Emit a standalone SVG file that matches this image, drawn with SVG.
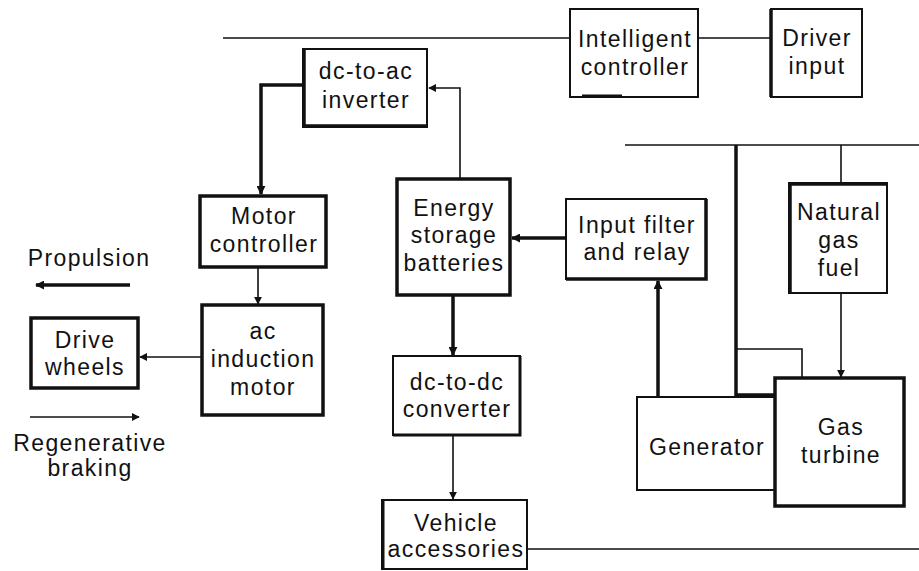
<svg xmlns="http://www.w3.org/2000/svg" width="919" height="571" viewBox="0 0 919 571">
<style>
text{font-family:"Liberation Sans",Arial,sans-serif;font-size:23px;letter-spacing:1.4px;fill:#111;text-anchor:middle}
.b{fill:#fff;stroke:#111;stroke-width:2}
.bt{fill:#fff;stroke:#111;stroke-width:3.5}
.l{fill:none;stroke:#111;stroke-width:1.6}
.lt{fill:none;stroke:#111;stroke-width:3.5}
</style>
<defs>
<marker id="a" viewBox="0 0 10 10" refX="9" refY="5" markerWidth="8" markerHeight="8" markerUnits="userSpaceOnUse" orient="auto"><path d="M0,0L10,5L0,10z" fill="#111"/></marker>
<marker id="at" viewBox="0 0 10 10" refX="9" refY="5" markerWidth="9" markerHeight="9" markerUnits="userSpaceOnUse" orient="auto"><path d="M0,0L10,5L0,10z" fill="#111"/></marker>
</defs>
<rect width="919" height="571" fill="#fff"/>
<g id="connectors">
<line class="l" x1="223" y1="38" x2="570" y2="38"/>
<line class="l" x1="698" y1="38" x2="771" y2="38"/>
<line class="l" x1="625" y1="145" x2="919" y2="145"/>
<polyline class="lt" points="736,145 736,395 775,395"/>
<polyline class="l" points="736,349 802,349 802,378"/>
<line class="l" x1="841" y1="145" x2="841" y2="183"/>
<line class="l" x1="841" y1="293" x2="841" y2="377" marker-end="url(#a)"/>
<line class="lt" x1="658" y1="397" x2="658" y2="281" marker-end="url(#at)"/>
<line class="lt" x1="566" y1="238" x2="512" y2="238" marker-end="url(#at)"/>
<line class="lt" x1="453" y1="295" x2="453" y2="355" marker-end="url(#at)"/>
<polyline class="l" points="460,179 460,88 429,88" marker-end="url(#a)"/>
<polyline class="lt" points="303,85 261,85 261,194" marker-end="url(#at)"/>
<line class="l" x1="258" y1="267" x2="258" y2="304" marker-end="url(#a)"/>
<line class="l" x1="202" y1="357" x2="140" y2="357" marker-end="url(#a)"/>
<line class="lt" x1="130" y1="285" x2="36" y2="285" marker-end="url(#at)"/>
<line class="l" x1="30" y1="417" x2="139" y2="417" marker-end="url(#a)"/>
<line class="l" x1="453" y1="435" x2="453" y2="499" marker-end="url(#a)"/>
<line class="l" x1="527" y1="549" x2="919" y2="549"/>
</g>
<g id="intelligent-controller">
<rect class="b" x="570" y="9" width="128" height="88"/>
<line x1="582" y1="96" x2="622" y2="96" stroke="#111" stroke-width="3"/>
<text x="635" y="47">Intelligent</text><text x="635" y="75">controller</text>
</g>
<g id="driver-input">
<rect class="b" x="771" y="9" width="91" height="88"/>
<line x1="771" y1="9" x2="771" y2="97" stroke="#111" stroke-width="3.5"/>
<text x="817" y="46">Driver</text><text x="817" y="74">input</text>
</g>
<g id="dc-ac-inverter">
<rect class="b" x="303" y="49" width="124" height="78"/>
<polyline points="304,49 304,126 427,126" fill="none" stroke="#111" stroke-width="3.5"/>
<text x="366" y="79">dc-to-ac</text><text x="366" y="108">inverter</text>
</g>
<g id="motor-controller">
<rect class="bt" x="200" y="196" width="126" height="71"/>
<text x="264" y="224">Motor</text><text x="264" y="252">controller</text>
</g>
<g id="ac-induction-motor">
<rect class="bt" x="202" y="305" width="121" height="110"/>
<text x="263" y="339">ac</text><text x="263" y="367">induction</text><text x="263" y="395">motor</text>
</g>
<g id="drive-wheels">
<rect class="bt" x="31" y="318" width="107" height="70"/>
<text x="85" y="348">Drive</text><text x="85" y="375">wheels</text>
</g>
<g id="propulsion"><text x="89" y="266">Propulsion</text></g>
<g id="regenerative-braking"><text x="90" y="451">Regenerative</text><text x="90" y="476">braking</text></g>
<g id="energy-storage">
<rect class="bt" x="397" y="179" width="113" height="116"/>
<text x="454" y="216">Energy</text><text x="454" y="243">storage</text><text x="454" y="271">batteries</text>
</g>
<g id="input-filter">
<rect class="b" x="566" y="199" width="140" height="80"/>
<polyline points="566,279 706,279 706,199" fill="none" stroke="#111" stroke-width="3.5"/>
<text x="637" y="233">Input filter</text><text x="637" y="260">and relay</text>
</g>
<g id="dc-dc-converter">
<rect class="b" x="393" y="356" width="127" height="79"/>
<polyline points="393,435 520,435 520,356" fill="none" stroke="#111" stroke-width="3"/>
<text x="457" y="390">dc-to-dc</text><text x="457" y="417">converter</text>
</g>
<g id="vehicle-accessories">
<rect class="b" x="382" y="500" width="145" height="69"/>
<polyline points="383,500 383,569" fill="none" stroke="#111" stroke-width="3"/>
<text x="456" y="531">Vehicle</text><text x="456" y="557">accessories</text>
</g>
<g id="natural-gas">
<rect class="b" x="789" y="183" width="98" height="110"/>
<polyline points="790,293 790,184 887,184" fill="none" stroke="#111" stroke-width="3.5"/>
<text x="839" y="220">Natural</text><text x="839" y="248">gas</text><text x="839" y="276">fuel</text>
</g>
<g id="generator">
<rect class="b" x="637" y="397" width="138" height="93"/>
<text x="707" y="455">Generator</text>
</g>
<g id="gas-turbine">
<rect class="bt" x="775" y="378" width="129" height="128"/>
<text x="841" y="435">Gas</text><text x="841" y="463">turbine</text>
</g>
</svg>
